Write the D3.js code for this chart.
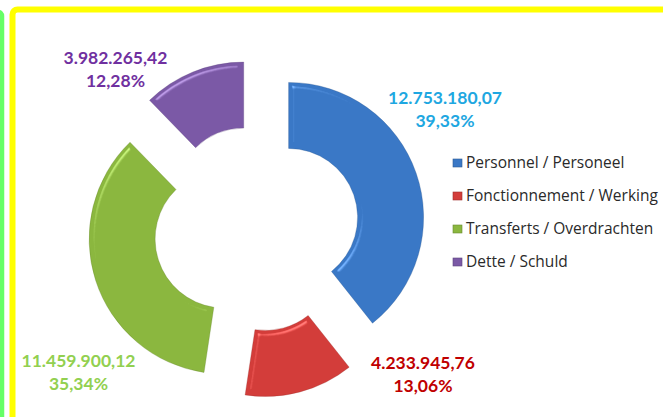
<!DOCTYPE html>
<html>
<head>
<meta charset="utf-8">
<script src="https://cdn.jsdelivr.net/npm/d3@7"></script>
<style>
  html, body { margin: 0; padding: 0; background: #fff; }
  svg { display: block; }
</style>
</head>
<body>
<svg id="chart" width="663" height="417"></svg>
<script>
// data
const categories = ['Personnel / Personeel', 'Fonctionnement / Werking', 'Transferts / Overdrachten', 'Dette / Schuld'];
const amounts = [12753180.07, 4233945.76, 11459900.12, 3982265.42];
const sliceColors = ['#3a78c6', '#d33d3a', '#8bb73f', '#7b59a6'];
const labelColors = ['#1ea7e1', '#c00000', '#92d050', '#7030a0'];

// label centres (first line), kept apart from the data
const labelPos = [[445, 97.5], [423, 362.5], [78.5, 361], [115.5, 57.5]];

const W = 663, H = 417;
const cx = 256.5, cy = 228.6;
const outerR = 135, innerR = 69, explode = 34;

const svg = d3.select('#chart');

// frame: green edge on the left, yellow box
svg.append('rect')
  .attr('x', -20).attr('y', 12).attr('width', 22).attr('height', H + 20)
  .attr('rx', 4).attr('fill', 'none').attr('stroke', '#66ff66').attr('stroke-width', 4.5);
svg.append('rect')
  .attr('x', 12.5).attr('y', 9.5).attr('width', W + 20).attr('height', H + 20)
  .attr('rx', 5).attr('fill', 'none').attr('stroke', '#ffff00').attr('stroke-width', 6);

// bevel filter, rough imitation of the Office look
const defs = svg.append('defs');
const f = defs.append('filter').attr('id', 'bevel')
  .attr('color-interpolation-filters', 'sRGB')
  .attr('x', '-10%').attr('y', '-10%').attr('width', '120%').attr('height', '120%');
f.append('feGaussianBlur').attr('in', 'SourceAlpha').attr('stdDeviation', 2.5).attr('result', 'blur');
const spec = f.append('feSpecularLighting').attr('in', 'blur')
  .attr('surfaceScale', 4).attr('specularConstant', 0.7).attr('specularExponent', 25)
  .attr('lighting-color', '#ffffff').attr('result', 'spec');
spec.append('feDistantLight').attr('azimuth', 235).attr('elevation', 50);
const ct = f.append('feComponentTransfer').attr('in', 'spec').attr('result', 'spec2');
['R', 'G', 'B', 'A'].forEach(c => ct.append('feFunc' + c).attr('type', 'linear').attr('slope', 0.8).attr('intercept', -0.15));
f.append('feComposite').attr('in', 'spec2').attr('in2', 'SourceAlpha').attr('operator', 'in').attr('result', 'specIn');
f.append('feComposite').attr('in', 'SourceGraphic').attr('in2', 'specIn')
  .attr('operator', 'arithmetic').attr('k1', 0).attr('k2', 1).attr('k3', 1).attr('k4', 0);

// pie layout
const pie = d3.pie().sort(null).value(d => d);
const arcData = pie(amounts);
const arc = d3.arc().innerRadius(innerR).outerRadius(outerR);
const total = d3.sum(amounts);

const g = svg.append('g').attr('transform', `translate(${cx},${cy})`);
g.selectAll('path')
  .data(arcData)
  .join('path')
  .attr('transform', d => {
    const a = (d.startAngle + d.endAngle) / 2;
    return `translate(${Math.sin(a) * explode},${-Math.cos(a) * explode})`;
  })
  .attr('d', arc)
  .attr('fill', (d, i) => sliceColors[i])
  .attr('stroke', (d, i) => d3.color(sliceColors[i]).darker(1))
  .attr('stroke-width', 0.6)
  .attr('stroke-opacity', 0.5)
  .attr('filter', 'url(#bevel)');

// number formats, Belgian style
const locale = d3.formatLocale({ decimal: ',', thousands: '.', grouping: [3], currency: ['', ' €'] });
const fmtNum = locale.format(',.2f');
const fmtPct = locale.format('.2%');

const labels = svg.append('g')
  .attr('font-family', 'Lato, "Open Sans", sans-serif')
  .attr('font-weight', 'bold')
  .attr('font-size', 17.5)
  .attr('text-anchor', 'middle');

amounts.forEach((v, i) => {
  const t = labels.append('text')
    .attr('x', labelPos[i][0]).attr('y', labelPos[i][1])
    .attr('fill', labelColors[i]);
  t.append('tspan').attr('x', labelPos[i][0]).attr('dy', '0.35em').text(fmtNum(v));
  t.append('tspan').attr('x', labelPos[i][0]).attr('dy', 23).text(fmtPct(v / total));
});

// legend
const legend = svg.append('g').attr('transform', 'translate(453,163)');
const rowH = 33;
categories.forEach((c, i) => {
  const row = legend.append('g').attr('transform', `translate(0,${i * rowH})`);
  row.append('rect')
    .attr('x', 0).attr('y', -4).attr('width', 9).attr('height', 8)
    .attr('fill', sliceColors[i])
    .attr('stroke', d3.color(sliceColors[i]).darker(0.8)).attr('stroke-width', 0.6);
  row.append('text')
    .attr('x', 13).attr('y', 0).attr('dy', '0.35em')
    .attr('font-family', '"Open Sans", sans-serif')
    .attr('font-size', 15.5)
    .attr('fill', '#2a2a2a')
    .text(c);
});
</script>
</body>
</html>
